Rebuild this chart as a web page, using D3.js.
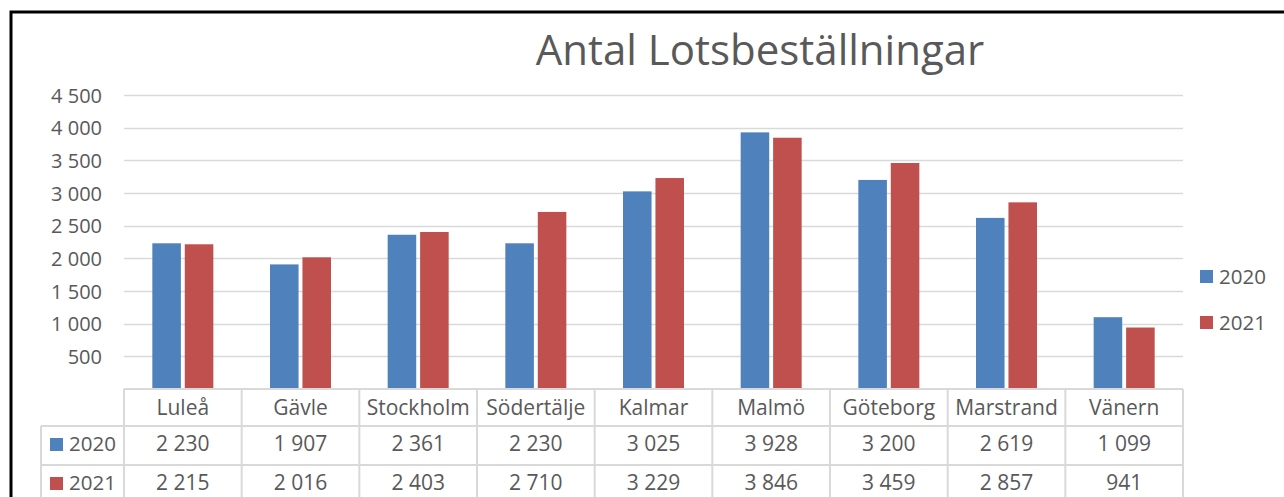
<!DOCTYPE html>
<html><head><meta charset="utf-8">
<script src="https://cdn.jsdelivr.net/npm/d3@7"></script>
<style>html,body{margin:0;padding:0;background:#fff;}svg{display:block;}</style>
</head><body>
<script>
const categories = ["Luleå","Gävle","Stockholm","Södertälje","Kalmar","Malmö","Göteborg","Marstrand","Vänern"];
const seriesNames = ["2020","2021"];
const values2020 = [2230,1907,2361,2230,3025,3928,3200,2619,1099];
const values2021 = [2215,2016,2403,2710,3229,3846,3459,2857,941];
const yTicks = [500,1000,1500,2000,2500,3000,3500,4000,4500];
const colors = ["#4F81BD","#C0504D"];
const title = "Antal Lotsbeställningar";

const W=1284,H=497;
const font="'Open Sans', Lato, sans-serif";
const txt="#595959", grid="#D9D9D9";
const svg=d3.select("body").append("svg").attr("width",W).attr("height",H);
svg.append("rect").attr("width",W).attr("height",H).attr("fill","#fff");
// chart frame
svg.append("rect").attr("x",11).attr("y",12).attr("width",W+50).attr("height",H+50)
  .attr("fill","none").attr("stroke","#000").attr("stroke-width",3);

const x0=124,x1=1183,yBase=389,yTop=95;
const x=d3.scaleBand().domain(categories).range([x0,x1]).paddingInner(0).paddingOuter(0);
const y=d3.scaleLinear().domain([0,4500]).range([yBase,yTop]);
const xs=d3.scaleBand().domain(seriesNames).range([0,61]).paddingInner(0.12);

// gridlines
svg.append("g").selectAll("line").data(yTicks).join("line")
  .attr("x1",x0).attr("x2",x1).attr("y1",d=>Math.round(y(d))+0.5).attr("y2",d=>Math.round(y(d))+0.5)
  .attr("stroke",grid).attr("stroke-width",1.5);
// y axis labels
const yAxis=d3.axisLeft(y).tickValues(yTicks).tickSize(0).tickPadding(0)
  .tickFormat(d=>d3.format(",")(d).replace(/,/g," "));
const ga=svg.append("g").attr("transform",`translate(102,0.7)`).call(yAxis);
ga.select(".domain").remove();
ga.selectAll("text").attr("font-family",font).attr("font-size",20).attr("fill",txt);

// bars
const series=[values2020,values2021];
series.forEach((vals,si)=>{
  svg.append("g").selectAll("rect").data(vals).join("rect")
    .attr("x",(d,i)=>x(categories[i])+x.bandwidth()/2-30.5+xs(seriesNames[si]))
    .attr("width",xs.bandwidth())
    .attr("y",d=>y(d)).attr("height",d=>yBase-y(d))
    .attr("fill",colors[si]);
});

// title
svg.append("text").attr("x",760).attr("y",65).attr("text-anchor","middle")
  .attr("font-family",font).attr("font-size",42).attr("fill",txt).text(title);

// legend
seriesNames.forEach((s,i)=>{
  const ly=276.5+i*46;
  svg.append("rect").attr("x",1200).attr("y",ly-6.5).attr("width",13).attr("height",13).attr("fill",colors[i]);
  svg.append("text").attr("x",1219).attr("y",ly).attr("dy","0.35em")
    .attr("font-family",font).attr("font-size",20.5).attr("fill",txt).text(s);
});

// data table
const rows=[yBase,426,465,504];
const tg=svg.append("g");
const lc=grid, lw=2;
tg.append("line").attr("x1",x0).attr("x2",x1).attr("y1",rows[0]).attr("y2",rows[0]).attr("stroke",lc).attr("stroke-width",lw);
[rows[1],rows[2]].forEach(r=>tg.append("line").attr("x1",41).attr("x2",x1).attr("y1",r).attr("y2",r).attr("stroke",lc).attr("stroke-width",lw));
const bounds=categories.map(c=>x(c)).concat([x1]);
bounds.forEach(b=>tg.append("line").attr("x1",b).attr("x2",b).attr("y1",rows[0]).attr("y2",H+5).attr("stroke",lc).attr("stroke-width",lw));
tg.append("line").attr("x1",41).attr("x2",41).attr("y1",rows[1]).attr("y2",H+5).attr("stroke",lc).attr("stroke-width",lw);
tg.selectAll("text.h").data(categories).join("text")
  .attr("x",d=>x(d)+x.bandwidth()/2).attr("y",(rows[0]+rows[1])/2).attr("dy","0.35em").attr("text-anchor","middle")
  .attr("font-family",font).attr("font-size",21).attr("fill",txt).text(d=>d);
const fmt=d=>d3.format(",")(d).replace(/,/g," ");
series.forEach((vals,si)=>{
  const cy=(rows[si+1]+rows[si+2])/2-1.5;
  tg.append("rect").attr("x",50).attr("y",cy-6).attr("width",13).attr("height",13).attr("fill",colors[si]);
  tg.append("text").attr("x",69).attr("y",cy).attr("dy","0.35em").attr("font-family",font).attr("font-size",20.5).attr("fill",txt).text(seriesNames[si]);
  tg.selectAll(null).data(vals).join("text")
    .attr("x",(d,i)=>x(categories[i])+x.bandwidth()/2).attr("y",cy).attr("dy","0.35em").attr("text-anchor","middle")
    .attr("font-family",font).attr("font-size",21).attr("fill",txt).text(fmt);
});
</script>
</body></html>
